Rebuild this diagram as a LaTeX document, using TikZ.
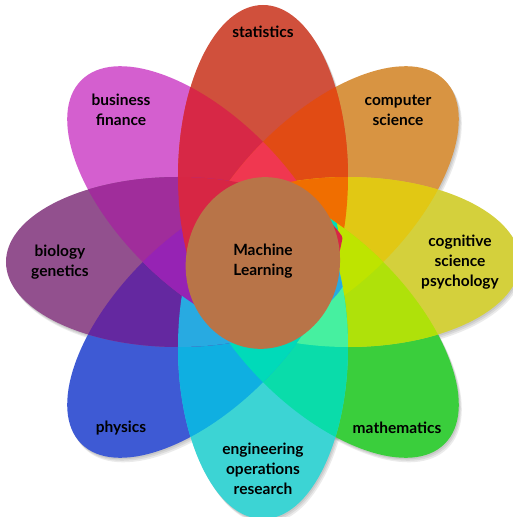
\documentclass[tikz,border=0pt]{standalone}
\usepackage{fontspec}
\setmainfont{Lato}
% single petals
\definecolor{busi}{RGB}{212,95,207}
\definecolor{comp}{RGB}{216,148,66}
\definecolor{phys}{RGB}{62,90,212}
\definecolor{math}{RGB}{58,206,60}
\definecolor{stat}{RGB}{208,80,60}
\definecolor{biol}{RGB}{146,80,142}
\definecolor{cogn}{RGB}{212,208,60}
\definecolor{engi}{RGB}{60,212,212}
\definecolor{core}{RGB}{184,116,72}
% overlaps of two petals
\definecolor{busi-stat}{RGB}{215,40,70}
\definecolor{stat-comp}{RGB}{225,75,20}
\definecolor{comp-cogn}{RGB}{225,200,20}
\definecolor{cogn-math}{RGB}{175,225,10}
\definecolor{math-engi}{RGB}{10,220,170}
\definecolor{engi-phys}{RGB}{15,175,225}
\definecolor{phys-biol}{RGB}{100,40,160}
\definecolor{biol-busi}{RGB}{160,45,155}
\definecolor{busi-comp}{RGB}{240,55,80}
\definecolor{stat-cogn}{RGB}{240,110,0}
\definecolor{comp-math}{RGB}{190,228,0}
\definecolor{cogn-engi}{RGB}{70,240,160}
\definecolor{math-phys}{RGB}{0,218,185}
\definecolor{engi-biol}{RGB}{40,170,225}
\definecolor{phys-busi}{RGB}{150,35,180}
\definecolor{biol-stat}{RGB}{215,38,68}

\begin{document}
\begin{tikzpicture}[x=1pt,y=1pt,
	shade/.style={fill=black, fill opacity=0.08},
	lbl/.style={align=center, font=\fontsize{15.5}{20}\selectfont\bfseries}]
	\useasboundingbox (-263,-255) rectangle (250,262);
	
	% soft shadows first
	\foreach \a in {0,45,...,315}
		\foreach \s in {1,2,3}
			\fill[shade, xshift=\s, yshift=-1.5*\s, rotate=\a] (85,0) ellipse [x radius=172, y radius=85];
	
	\foreach \a/\c in {135/busi, 45/comp, -135/phys, -45/math, 90/stat, 180/biol, 0/cogn, -90/engi}
		\fill[\c, rotate=\a] (85,0) ellipse [x radius=172, y radius=85];
	
	% overlaps: neighbours first, then petals 90 degrees apart
	\foreach \a/\b/\c in {135/90/busi-stat, 90/45/stat-comp, 45/0/comp-cogn, 0/-45/cogn-math,
		-45/-90/math-engi, -90/-135/engi-phys, -135/180/phys-biol, 180/135/biol-busi,
		135/45/busi-comp, 90/0/stat-cogn, 45/-45/comp-math, 0/-90/cogn-engi,
		-45/-135/math-phys, -90/180/engi-biol, -135/135/phys-busi, 180/90/biol-stat}
	{
		\begin{scope}
			\clip[rotate=\a] (85,0) ellipse [x radius=172, y radius=85];
			\fill[\c, rotate=\b] (85,0) ellipse [x radius=172, y radius=85];
		\end{scope}
	}
	
	% centre
	\fill[core, rotate=-8] (0,-1) ellipse [x radius=77, y radius=86];
	
	\node[lbl] (statistics) at (0,230) {statistics};
	\node[lbl] (business) at (-142,152) {business\\finance};
	\node[lbl] (computer) at (135,152) {computer\\science};
	\node[lbl] (biology) at (-203,0) {biology\\genetics};
	\node[lbl] (cognitive) at (197,0) {cognitive\\science\\psychology};
	\node[lbl] (ml) at (0,1) {Machine\\Learning};
	\node[lbl] (physics) at (-142,-166) {physics};
	\node[lbl] (mathematics) at (134,-166) {mathematics};
	\node[lbl] (engineering) at (0,-207) {engineering\\operations\\research};
\end{tikzpicture}
\end{document}
